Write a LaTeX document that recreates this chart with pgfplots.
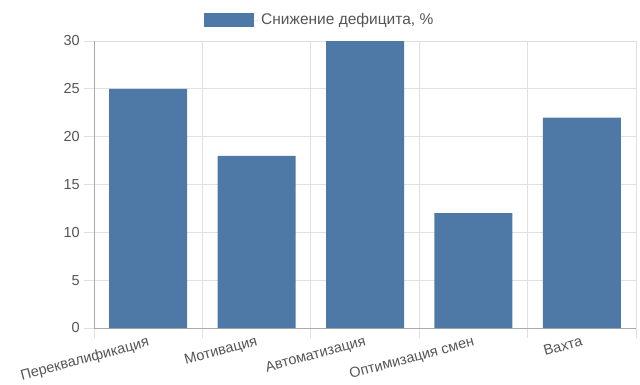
\documentclass[border=0pt]{standalone}
\usepackage{fontspec}
\setmainfont{Liberation Sans}
\usepackage{pgfplots}
\pgfplotsset{compat=1.18}
\definecolor{barblue}{HTML}{4E79A7}
\definecolor{gridc}{HTML}{E0E0E0}
\definecolor{axc}{HTML}{AAAAAA}
\definecolor{txt}{HTML}{555555}
\begin{document}
\begin{tikzpicture}[x=1pt,y=1pt]
\path[use as bounding box] (0,0) rectangle (640,384);
\begin{axis}[
  at={(94pt,56pt)}, anchor=south west,
  scale only axis, width=542pt, height=287pt,
  xmin=-0.5, xmax=4.5, ymin=0, ymax=30,
  ybar, bar width=78pt,
  xtick={0,1,2,3,4},
  xticklabels={Переквалификация,Мотивация,Автоматизация,Оптимизация смен,Вахта},
  minor xtick={-0.5,0.5,1.5,2.5,3.5,4.5},
  ytick={0,5,10,15,20,25,30},
  minor ytick={0,5,10,15,20,25,30},
  xmajorgrids=false, xminorgrids=true, ymajorgrids=true, yminorgrids=false,
  grid style={draw=gridc, line width=0.8pt},
  minor grid style={draw=gridc, line width=0.8pt},
  axis x line*=bottom, axis y line*=left,
  axis line style={draw=axc, line width=0.8pt, -},
  tick align=outside,
  major tick length=0pt, minor tick length=10pt,
  tick style={draw=gridc, line width=0.8pt},
  xticklabel style={font=\fontsize{14.5}{16}\selectfont, text=txt, rotate=15, anchor=north east, inner sep=1pt, yshift=-6pt, xshift=-2pt},
  yticklabel style={font=\fontsize{14.5}{16}\selectfont, text=txt, anchor=east, inner sep=0pt, xshift=-14pt},
  /pgf/number format/assume math mode=true,
  legend style={at={(0.203,1.073)}, anchor=west, draw=none, fill=none,
    font=\fontsize{15.5}{17}\selectfont, text=txt, inner sep=0pt,
    nodes={inner sep=1pt}},
  legend image code/.code={\fill[barblue] (0pt,-7pt) rectangle (50pt,7pt); \path (0pt,0pt) -- (56pt,0pt);},
]
\addplot[fill=barblue, draw=none] coordinates {(0,25) (1,18) (2,30) (3,12) (4,22)};
\addlegendentry{Снижение дефицита, \%}
\end{axis}
\end{tikzpicture}
\end{document}
